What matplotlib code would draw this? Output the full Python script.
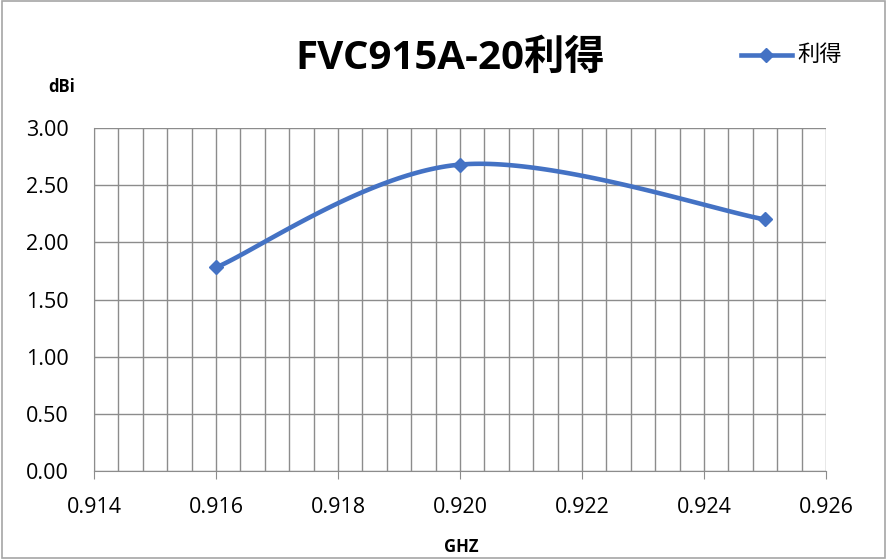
import matplotlib
matplotlib.use("Agg")
import matplotlib.pyplot as plt
import numpy as np
from matplotlib.ticker import MultipleLocator, FormatStrFormatter

plt.rcParams['font.family'] = ['Open Sans', 'Noto Sans CJK SC', 'DejaVu Sans']

freq = [0.916, 0.920, 0.925]
gain = [1.78, 2.68, 2.20]
series_name = "利得"
title = "FVC915A-20利得"


def smooth(xs, ys, n=60):
	# Excel-style smoothed line: cubic bezier through the points
	p = np.column_stack([xs, ys])
	out = []
	for i in range(len(p) - 1):
		p0 = p[max(i - 1, 0)]
		p1 = p[i]
		p2 = p[i + 1]
		p3 = p[min(i + 2, len(p) - 1)]
		c1 = p1 + (p2 - p0) / 6
		c2 = p2 - (p3 - p1) / 6
		t = np.linspace(0, 1, n)[:, None]
		seg = (1 - t) ** 3 * p1 + 3 * (1 - t) ** 2 * t * c1 + 3 * (1 - t) * t ** 2 * c2 + t ** 3 * p2
		out.append(seg)
	s = np.vstack(out)
	return s[:, 0], s[:, 1]


fig = plt.figure(figsize=(8.87, 5.59), dpi=100)
ax = fig.add_axes([94 / 887, 1 - 471 / 559, (826 - 94) / 887, (471 - 128) / 559])

blue = "#4472C4"
sx, sy = smooth(freq, gain)
ax.plot(sx, sy, color=blue, lw=3.3, solid_capstyle='round', zorder=3)
ax.plot(freq, gain, linestyle='none', marker='D', ms=7.5, color=blue, zorder=4)

ax.set_xlim(0.914, 0.926)
ax.set_ylim(0, 3)
ax.xaxis.set_major_locator(MultipleLocator(0.002))
ax.xaxis.set_minor_locator(MultipleLocator(0.0004))
ax.yaxis.set_major_locator(MultipleLocator(0.5))
ax.xaxis.set_major_formatter(FormatStrFormatter('%.3f'))
ax.yaxis.set_major_formatter(FormatStrFormatter('%.2f'))

ax.grid(which='major', color='#8c8c8c', lw=1)
ax.grid(which='minor', axis='x', color='#8c8c8c', lw=1)
ax.set_axisbelow(True)
for s in ['top', 'right']:
	ax.spines[s].set_visible(False)
ax.spines['left'].set_color('#8c8c8c')
ax.spines['bottom'].set_color('#8c8c8c')
ax.tick_params(axis='x', which='major', length=6, color='#8c8c8c', labelsize=15.5, pad=13)
ax.tick_params(axis='x', which='minor', length=0)
ax.tick_params(axis='y', length=0, labelsize=15.5, pad=18)

fig.text(0.507, 1 - 58 / 559, title, ha='center', va='center', fontsize=29, fontweight='bold')
fig.text(62 / 887, 1 - 87 / 559, "dBi", ha='center', va='center', fontsize=12, fontweight='bold')
fig.text(461 / 887, 1 - 547 / 559, "GHZ", ha='center', va='center', fontsize=12, fontweight='bold')

# legend entry
leg_y = 1 - 55 / 559
fig.add_artist(plt.Line2D([741 / 887, 792 / 887], [leg_y, leg_y], color=blue, lw=3.3))
fig.add_artist(plt.Line2D([766 / 887], [leg_y], color=blue, marker='D', ms=7))
fig.text(797 / 887, leg_y, series_name, ha='left', va='center', fontsize=16)

# chart border
fig.add_artist(plt.Rectangle((0.002, 0.002), 0.996, 0.996, transform=fig.transFigure,
	fill=False, edgecolor='#a6a6a6', lw=1.2))

fig.savefig("out.png", dpi=100)
